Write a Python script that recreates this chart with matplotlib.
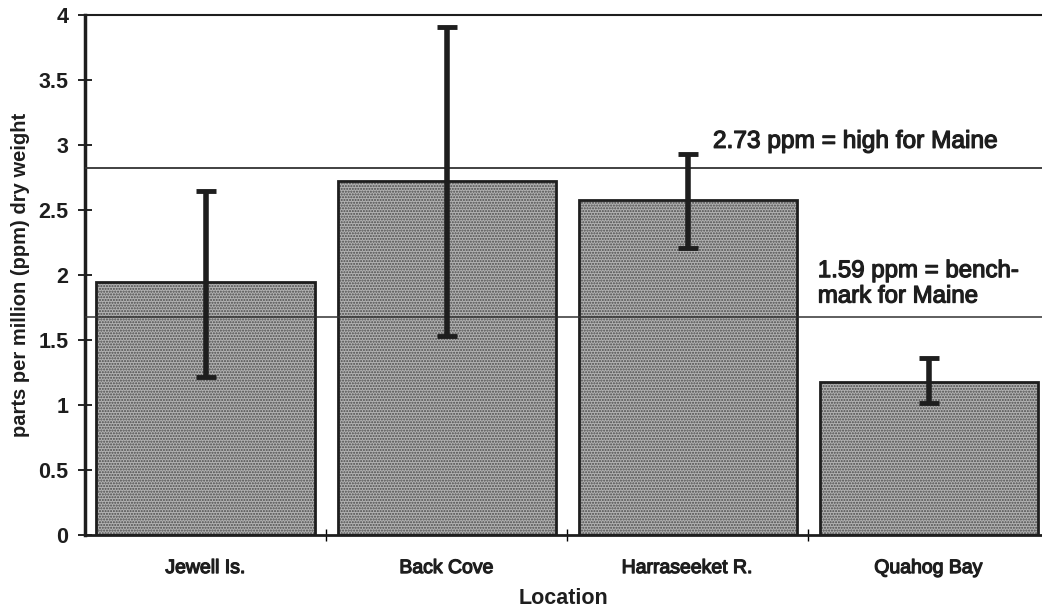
import matplotlib
matplotlib.use("Agg")
from matplotlib import pyplot, rcParams, patheffects
import numpy as np

rcParams['font.family'] = ['Liberation Sans', 'DejaVu Sans']

# data
locations = ['Jewell Is.', 'Back Cove', 'Harraseeket R.', 'Quahog Bay']
means = [1.95, 2.72, 2.58, 1.18]
err_hi = [2.65, 3.91, 2.93, 1.36]
err_lo = [1.215, 1.53, 2.21, 1.015]
high_level = 2.82       # drawn line for "2.73 ppm = high for Maine"
bench_level = 1.68      # drawn line for "1.59 ppm = benchmark"
y_ticks = [0, 0.5, 1, 1.5, 2, 2.5, 3, 3.5, 4]
y_tick_labels = ['0', '0.5', '1', '1.5', '2', '2.5', '3', '3.5', '4']

ink = '#1e1e1e'
# thicken the strokes a bit, the scan makes everything look heavier
thick = [patheffects.withStroke(linewidth=0.9, foreground=ink)]

fig = pyplot.figure(figsize=(10.42, 6.15), dpi=100)
ax = fig.add_axes([0.0816, 0.130, 0.9184, 0.8456])

x = np.arange(len(locations))
means = np.array(means)
yerr = np.array([means - np.array(err_lo), np.array(err_hi) - means])

# halftone-ish fill, then a black outline on top
ax.bar(x, means, width=0.905, color='#b2b2b2', hatch='......',
       edgecolor='#4a4a4a', linewidth=0, zorder=2)
ax.bar(x, means, width=0.905, fill=False, edgecolor=ink,
       linewidth=2, zorder=3)

ax.axhline(high_level, color='#333333', lw=1.3, zorder=4)
ax.axhline(bench_level, color='#333333', lw=1.1, zorder=4)

ax.errorbar(x, means, yerr=yerr, fmt='none', ecolor=ink,
            elinewidth=4, capsize=7.5, capthick=3.5, zorder=5)

ax.text(2.105, high_level + 0.12, '2.73 ppm = high for Maine',
        fontsize=17.6, ha='left', va='bottom', color=ink, path_effects=thick)
ax.text(2.54, bench_level + 0.07, '1.59 ppm = bench-\nmark for Maine',
        fontsize=17.3, ha='left', va='bottom', color=ink,
        linespacing=1.2, path_effects=thick)

ax.set_xlim(-0.5, 3.47)
ax.set_ylim(0, 4)
ax.set_yticks(y_ticks)
ax.set_yticklabels(y_tick_labels, fontsize=15.5, fontweight='bold', color=ink)
ax.set_xticks(x)
ax.set_xticklabels(locations, fontsize=14, color=ink)
for lbl in ax.get_xticklabels():
    lbl.set_path_effects(thick)
ax.set_xticks([0.5, 1.5, 2.5], minor=True)
ax.tick_params(axis='x', which='major', length=0, pad=18)
ax.tick_params(axis='x', which='minor', direction='inout', length=8, width=1)
ax.tick_params(axis='y', direction='inout', length=10, width=1.2, pad=7)

ax.set_xlabel('Location', fontsize=15.5, fontweight='bold', labelpad=8,
              color=ink)
ax.set_ylabel('parts per million (ppm) dry weight', fontsize=14.5,
              fontweight='bold', labelpad=6, color=ink)

ax.spines['right'].set_visible(False)
ax.spines['left'].set_linewidth(2.5)
ax.spines['bottom'].set_linewidth(2)
ax.spines['top'].set_linewidth(1.5)
for s in ['left', 'bottom', 'top']:
    ax.spines[s].set_color(ink)

fig.savefig('out.png', dpi=100)
